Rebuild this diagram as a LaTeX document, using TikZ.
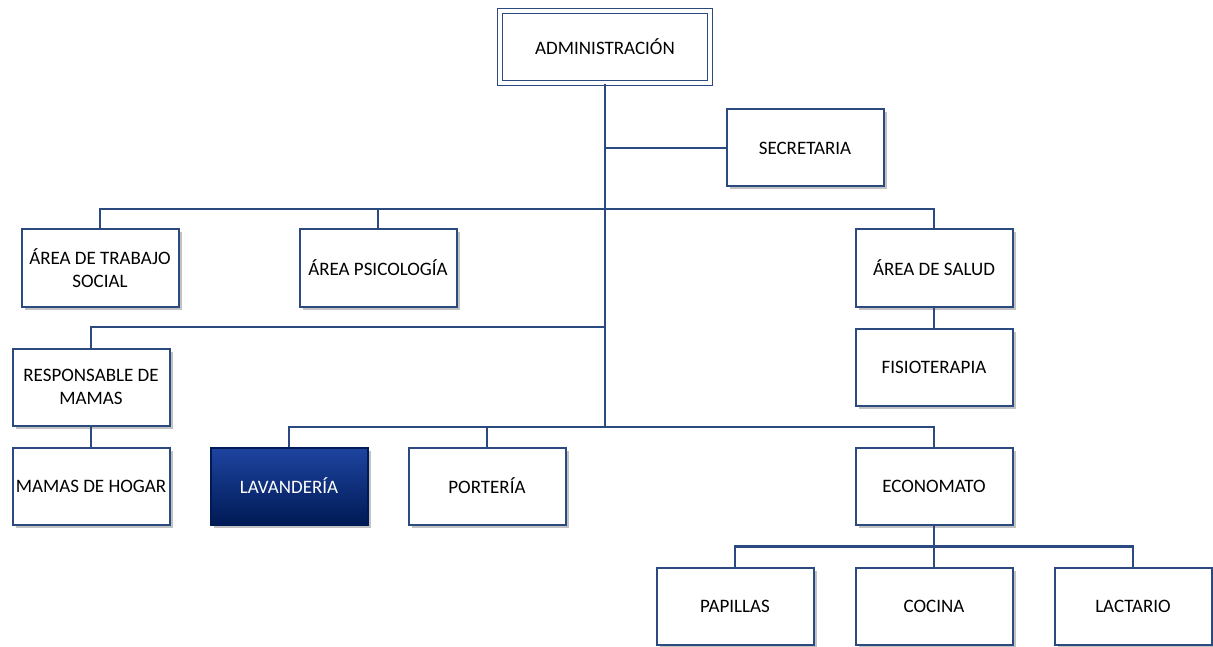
\documentclass[tikz,border=0pt]{standalone}
\usepackage{fontspec}
\setmainfont{Carlito}
\usetikzlibrary{shadows}
\definecolor{lnblue}{HTML}{2B4A80}
\definecolor{navtop}{HTML}{1E44A0}
\definecolor{navbot}{HTML}{001A55}
\tikzset{
  box/.style={draw=lnblue, line width=2pt, fill=white, minimum width=157pt, minimum height=77pt,
    align=center, font=\fontsize{19}{23}\selectfont, inner sep=2pt,
    drop shadow={shadow xshift=3pt, shadow yshift=-3pt, fill=black!40, opacity=0.6}},
  dbox/.style={box, double=white, double distance=3.5pt, line width=1.5pt, minimum width=210pt, minimum height=72pt},
  darkbox/.style={box, draw=navbot, top color=navtop, bottom color=navbot, text=white},
  conn/.style={draw=lnblue, line width=2.3pt}
}
\begin{document}
\begin{tikzpicture}[x=1pt,y=-1pt]
\useasboundingbox (0,0) rectangle (1213,647);
\node[dbox] (adm) at (605,47) {ADMINISTRACIÓN};
\node[box] (sec) at (805,148) {SECRETARIA};
\node[box] (ts) at (100,268) {ÁREA DE TRABAJO\\SOCIAL};
\node[box] (psi) at (378,268) {ÁREA PSICOLOGÍA};
\node[box] (sal) at (934,268) {ÁREA DE SALUD};
\node[box] (fis) at (934,367) {FISIOTERAPIA};
\node[box] (resp) at (91,387) {RESPONSABLE DE\\MAMAS};
\node[box] (hog) at (91,486) {MAMAS DE HOGAR};
\node[darkbox] (lav) at (289,486) {LAVANDERÍA};
\node[box] (por) at (487,486) {PORTERÍA};
\node[box] (eco) at (934,486) {ECONOMATO};
\node[box] (pap) at (735,606) {PAPILLAS};
\node[box] (coc) at (934,606) {COCINA};
\node[box] (lac) at (1133,606) {LACTARIO};
\coordinate (b1) at (605,209);
\coordinate (b2) at (605,327);
\coordinate (b3) at (605,427);
\draw[conn] (adm.south) -- (b3);
\draw[conn] (adm.south |- sec.west) -- (sec.west);
\draw[conn] (ts.north) |- (b1) -| (sal.north);
\draw[conn] (psi.north) -- (psi.north |- b1);
\draw[conn] (sal.south) -- (fis.north);
\draw[conn] (resp.north) |- (b2);
\draw[conn] (resp.south) -- (hog.north);
\draw[conn] (lav.north) |- (b3) -| (eco.north);
\draw[conn] (por.north) -- (por.north |- b3);
\draw[conn] (eco.south) -- ++(0,21) coordinate (b4);
\draw[conn] (pap.north) |- (b4) -| (lac.north);
\draw[conn] (b4) -- (coc.north);
\end{tikzpicture}
\end{document}
